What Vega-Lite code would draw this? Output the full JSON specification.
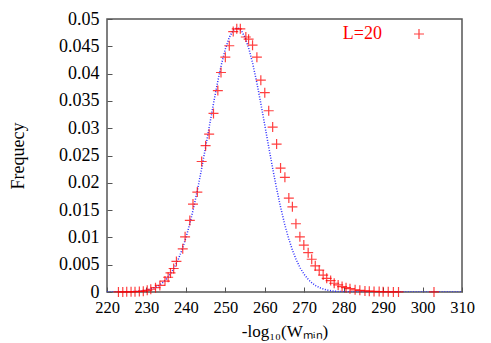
{
  "$schema": "https://vega.github.io/schema/vega-lite/v6.json",
  "width": 355,
  "height": 273,
  "autosize": "none",
  "padding": {"left": 107, "top": 19, "right": 29, "bottom": 51},
  "background": "white",
  "config": {
    "font": "Liberation Serif",
    "view": {"stroke": "#555555", "strokeWidth": 1.5},
    "axis": {
      "grid": false,
      "domain": false,
      "labelOverlap": false,
      "labelFlush": false,
      "tickColor": "#555555",
      "tickSize": -5,
      "tickWidth": 1,
      "labelFont": "Liberation Serif",
      "labelFontSize": 16.5,
      "labelColor": "#000000",
      "titleFont": "Liberation Serif",
      "titleFontSize": 17,
      "titleFontWeight": "normal",
      "titleColor": "#000000"
    }
  },
  "encoding": {
    "x": {"field": "x", "type": "quantitative", "scale": {"domain": [220, 310], "nice": false, "zero": false},
          "axis": {"values": [220, 230, 240, 250, 260, 270, 280, 290, 300, 310], "labelOverlap": false, "labelFlush": false, "title": "-log₁₀(Wₘᵢₙ)", "labelPadding": 12, "titlePadding": 8}},
    "y": {"field": "y", "type": "quantitative", "scale": {"domain": [0, 0.05], "nice": false},
          "axis": {"values": [0, 0.005, 0.01, 0.015, 0.02, 0.025, 0.03, 0.035, 0.04, 0.045, 0.05], "labelOverlap": false, "labelFlush": false, "format": "~g", "title": "Frequecy", "labelFontSize": 18, "labelPadding": 13, "titleFontSize": 18, "titlePadding": 31}}
  },
  "layer": [
    {
      "data": {"values": [
        {"x": 220, "y": 0.0000018}, {"x": 222, "y": 0.0000059}, {"x": 224, "y": 0.000018},
        {"x": 225, "y": 0.000031}, {"x": 226, "y": 0.000052}, {"x": 227, "y": 0.000085},
        {"x": 228, "y": 0.000137}, {"x": 229, "y": 0.000218}, {"x": 230, "y": 0.000338},
        {"x": 231, "y": 0.000516}, {"x": 232, "y": 0.000772}, {"x": 233, "y": 0.001135},
        {"x": 234, "y": 0.001636}, {"x": 235, "y": 0.002315}, {"x": 236, "y": 0.003214},
        {"x": 237, "y": 0.004382}, {"x": 238, "y": 0.005861}, {"x": 239, "y": 0.007696},
        {"x": 240, "y": 0.009912}, {"x": 241, "y": 0.012536}, {"x": 242, "y": 0.015556},
        {"x": 243, "y": 0.018939}, {"x": 244, "y": 0.022637}, {"x": 245, "y": 0.026552},
        {"x": 246, "y": 0.03056}, {"x": 247, "y": 0.034524}, {"x": 248, "y": 0.03828},
        {"x": 249, "y": 0.041653}, {"x": 250, "y": 0.04448}, {"x": 251, "y": 0.046619},
        {"x": 252, "y": 0.04795}, {"x": 253, "y": 0.0484}, {"x": 254, "y": 0.04795},
        {"x": 255, "y": 0.046619}, {"x": 256, "y": 0.04448}, {"x": 257, "y": 0.041653},
        {"x": 258, "y": 0.03828}, {"x": 259, "y": 0.034524}, {"x": 260, "y": 0.03056},
        {"x": 261, "y": 0.026552}, {"x": 262, "y": 0.022637}, {"x": 263, "y": 0.018939},
        {"x": 264, "y": 0.015556}, {"x": 265, "y": 0.012536}, {"x": 266, "y": 0.009912},
        {"x": 267, "y": 0.007696}, {"x": 268, "y": 0.005861}, {"x": 269, "y": 0.004382},
        {"x": 270, "y": 0.003214}, {"x": 271, "y": 0.002315}, {"x": 272, "y": 0.001636},
        {"x": 273, "y": 0.001135}, {"x": 274, "y": 0.000772}, {"x": 275, "y": 0.000516},
        {"x": 276, "y": 0.000338}, {"x": 277, "y": 0.000218}, {"x": 278, "y": 0.000137},
        {"x": 279, "y": 0.000085}, {"x": 280, "y": 0.000052}, {"x": 281, "y": 0.000031},
        {"x": 282, "y": 0.000018}, {"x": 284, "y": 0.0000059}, {"x": 286, "y": 0.0000018},
        {"x": 290, "y": 0}, {"x": 300, "y": 0}, {"x": 310, "y": 0}
      ]},
      "mark": {"type": "line", "color": "#2a2aff", "strokeDash": [1, 1.6], "strokeWidth": 1.5, "clip": true}
    },
    {
      "data": {"values": [
        {"x": 222.9, "y": 0.00002, "series": "L=20"}, {"x": 224.0, "y": 0.00002, "series": "L=20"},
        {"x": 225.0, "y": 0.00003, "series": "L=20"}, {"x": 226.1, "y": 0.00004, "series": "L=20"},
        {"x": 227.1, "y": 0.00006, "series": "L=20"}, {"x": 228.2, "y": 0.0001, "series": "L=20"},
        {"x": 229.2, "y": 0.00015, "series": "L=20"}, {"x": 230.2, "y": 0.0003, "series": "L=20"},
        {"x": 231.1, "y": 0.0005, "series": "L=20"}, {"x": 232.3, "y": 0.0008, "series": "L=20"},
        {"x": 233.4, "y": 0.0012, "series": "L=20"}, {"x": 234.7, "y": 0.002, "series": "L=20"},
        {"x": 235.5, "y": 0.0027, "series": "L=20"}, {"x": 236.1, "y": 0.0035, "series": "L=20"},
        {"x": 236.9, "y": 0.0043, "series": "L=20"}, {"x": 237.6, "y": 0.0056, "series": "L=20"},
        {"x": 239.2, "y": 0.0079, "series": "L=20"}, {"x": 239.8, "y": 0.0101, "series": "L=20"},
        {"x": 241.0, "y": 0.0131, "series": "L=20"}, {"x": 241.8, "y": 0.0161, "series": "L=20"},
        {"x": 242.9, "y": 0.0183, "series": "L=20"}, {"x": 244.0, "y": 0.0239, "series": "L=20"},
        {"x": 245.0, "y": 0.0268, "series": "L=20"}, {"x": 245.9, "y": 0.0289, "series": "L=20"},
        {"x": 247.0, "y": 0.0327, "series": "L=20"}, {"x": 248.1, "y": 0.0369, "series": "L=20"},
        {"x": 248.9, "y": 0.0402, "series": "L=20"}, {"x": 250.0, "y": 0.043, "series": "L=20"},
        {"x": 251.0, "y": 0.0451, "series": "L=20"}, {"x": 252.0, "y": 0.0477, "series": "L=20"},
        {"x": 252.9, "y": 0.0482, "series": "L=20"}, {"x": 253.8, "y": 0.0482, "series": "L=20"},
        {"x": 255.2, "y": 0.0467, "series": "L=20"}, {"x": 255.9, "y": 0.0463, "series": "L=20"},
        {"x": 256.9, "y": 0.0452, "series": "L=20"}, {"x": 258.0, "y": 0.043, "series": "L=20"},
        {"x": 259.0, "y": 0.0388, "series": "L=20"}, {"x": 260.0, "y": 0.0365, "series": "L=20"},
        {"x": 261.0, "y": 0.0332, "series": "L=20"}, {"x": 262.0, "y": 0.0302, "series": "L=20"},
        {"x": 263.0, "y": 0.0271, "series": "L=20"}, {"x": 264.0, "y": 0.0227, "series": "L=20"},
        {"x": 265.1, "y": 0.021, "series": "L=20"}, {"x": 266.1, "y": 0.0172, "series": "L=20"},
        {"x": 267.0, "y": 0.0156, "series": "L=20"}, {"x": 267.9, "y": 0.0125, "series": "L=20"},
        {"x": 268.9, "y": 0.0101, "series": "L=20"}, {"x": 269.9, "y": 0.0086, "series": "L=20"},
        {"x": 271.0, "y": 0.0072, "series": "L=20"}, {"x": 271.9, "y": 0.006, "series": "L=20"},
        {"x": 272.8, "y": 0.0048, "series": "L=20"}, {"x": 273.8, "y": 0.004, "series": "L=20"},
        {"x": 274.8, "y": 0.0031, "series": "L=20"}, {"x": 275.7, "y": 0.0025, "series": "L=20"},
        {"x": 276.7, "y": 0.0021, "series": "L=20"}, {"x": 277.6, "y": 0.0016, "series": "L=20"},
        {"x": 278.6, "y": 0.0013, "series": "L=20"}, {"x": 279.6, "y": 0.001, "series": "L=20"},
        {"x": 280.6, "y": 0.0008, "series": "L=20"}, {"x": 281.6, "y": 0.0006, "series": "L=20"},
        {"x": 282.9, "y": 0.0004, "series": "L=20"}, {"x": 284.1, "y": 0.0003, "series": "L=20"},
        {"x": 285.4, "y": 0.0002, "series": "L=20"}, {"x": 286.5, "y": 0.00015, "series": "L=20"},
        {"x": 287.7, "y": 0.0001, "series": "L=20"}, {"x": 289.0, "y": 0.00007, "series": "L=20"},
        {"x": 290.0, "y": 0.00005, "series": "L=20"}, {"x": 291.3, "y": 0.00003, "series": "L=20"},
        {"x": 292.6, "y": 0.00002, "series": "L=20"}, {"x": 293.9, "y": 0.00002, "series": "L=20"},
        {"x": 302.9, "y": 0.00001, "series": "L=20"}
      ]},
      "mark": {"type": "point", "shape": "M-1,0H1M0,-1V1", "size": 100, "strokeWidth": 1.2, "filled": false, "opacity": 0.75},
      "encoding": {
        "color": {"field": "series", "type": "nominal",
                  "scale": {"domain": ["L=20"], "range": ["#ff0000"]},
                  "legend": {"title": null, "orient": "none", "legendX": 303, "legendY": 6,
                             "labelFont": "Liberation Serif", "labelFontSize": 18, "labelColor": "#ff0000",
                             "labelAlign": "right", "labelOffset": -46,
                             "symbolType": "M-1,0H1M0,-1V1", "symbolSize": 100, "symbolStrokeWidth": 1.2,
                             "symbolFillColor": "transparent", "symbolOpacity": 0.75}}
      }
    }
  ]
}
